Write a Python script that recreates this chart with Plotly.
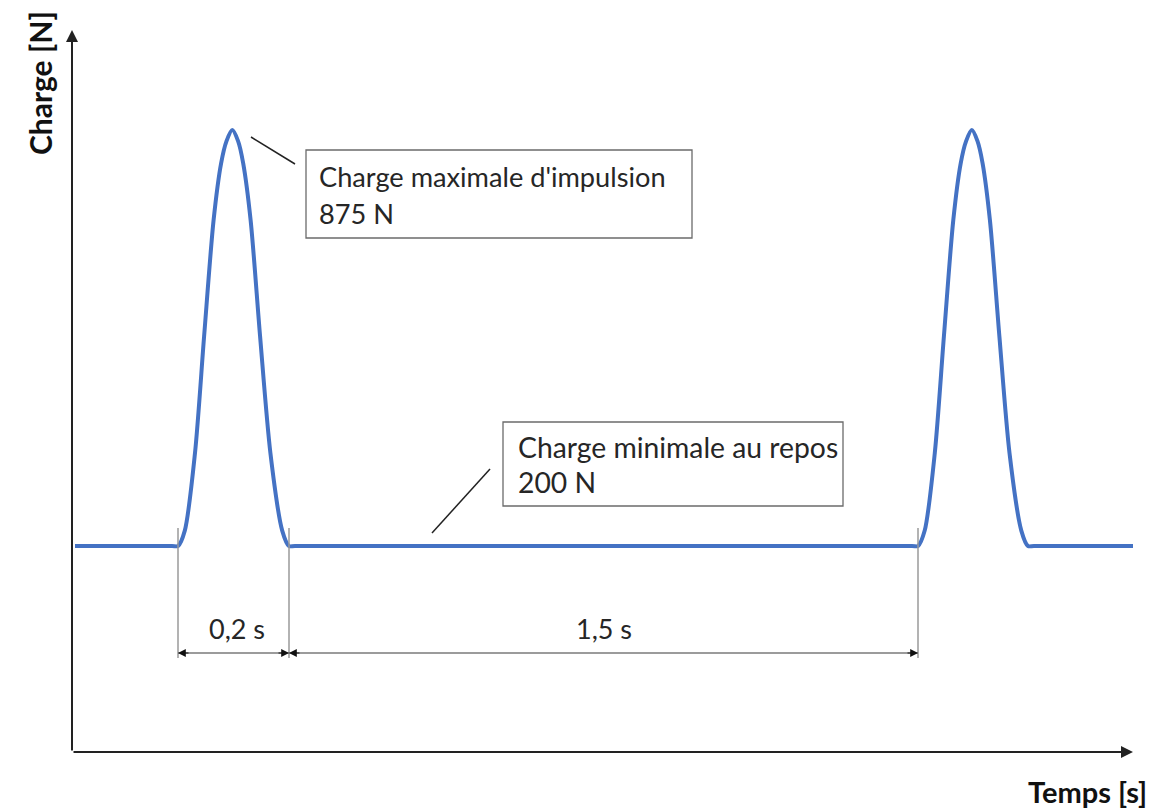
import plotly.graph_objects as go

# ---------------- data (schematic time axis in drawing units, load in N) ----------------
time_pts = [3, 100, 106, 112.8, 123.0, 132.1, 141.6, 149.1, 154.5, 160.3, 166.1, 171.2, 178.6, 188.1, 198.4, 210.2, 217, 223,
            840, 846, 852.7, 862.8, 871.9, 881.3, 888.7, 894.1, 899.8, 905.5, 910.6, 917.9, 927.4, 937.5, 949.3, 956, 962, 1063]
load_pts = [200, 200, 200, 225, 351, 540, 729, 821, 857, 875, 857, 821, 729, 540, 351, 225, 200, 200,
            200, 200, 225, 351, 540, 729, 821, 857, 875, 857, 821, 729, 540, 351, 225, 200, 200, 200]

dim_edges = [106, 217, 846]          # pulse start, pulse end, next pulse start
dim_labels = ["0,2 s", "1,5 s"]
peak_label = ["Charge maximale d'impulsion", "875 N"]
rest_label = ["Charge minimale au repos", "200 N"]
x_title = "Temps [s]"
y_title = "Charge [N]"

FONT = "Lato"
FS = 27
TXT = "#262626"

# page offset (browser body margin)
OFF = 8
# plot area in reference pixels
PL, PT, PR, PB = 72, 30, 1133, 752
W, H = 1154, 809
XMAX = PR - PL
PXN = 0.6163
def X(px):
    return px - PL
def Y(py):
    return 200 + (546 - py) / PXN
YMIN, YMAX = Y(PB), Y(PT)

fig = go.Figure()
fig.add_trace(go.Scatter(x=time_pts, y=load_pts, mode="lines",
                         line=dict(color="#4472C4", width=4, shape="spline", smoothing=0.8),
                         cliponaxis=False, hoverinfo="skip", showlegend=False))

shapes = []
annotations = []

# axes with arrowheads
annotations.append(dict(x=0, y=YMAX, ax=0, ay=YMIN, xref="x", yref="y", axref="x", ayref="y",
                        text="", showarrow=True, arrowhead=2, arrowsize=1.2, arrowwidth=2, arrowcolor="#222"))
annotations.append(dict(x=XMAX, y=YMIN, ax=0, ay=YMIN, xref="x", yref="y", axref="x", ayref="y",
                        text="", showarrow=True, arrowhead=2, arrowsize=1.2, arrowwidth=2, arrowcolor="#222"))

# axis titles
annotations.append(dict(x=(1149 - PL) / XMAX, y=(PB - 791) / (PB - PT), xref="paper", yref="paper",
                        xanchor="right", yanchor="middle",
                        text="<b>%s</b>" % x_title, showarrow=False,
                        font=dict(family=FONT, size=29, color="#111")))
annotations.append(dict(x=(40 - PL) / XMAX, y=(PB - 83) / (PB - PT), xref="paper", yref="paper",
                        xanchor="center", yanchor="middle",
                        text="<b>%s</b>" % y_title, showarrow=False, textangle=-90,
                        font=dict(family=FONT, size=30, color="#111")))

# dimension extension lines
for xe in dim_edges:
    shapes.append(dict(type="line", xref="x", yref="y", x0=xe, x1=xe, y0=Y(528), y1=Y(658),
                       line=dict(color="#9a9a9a", width=1.5)))
# dimension lines with arrowheads
ydim = Y(653)
for i in range(2):
    a, b = dim_edges[i], dim_edges[i + 1]
    shapes.append(dict(type="line", xref="x", yref="y", x0=a, x1=b, y0=ydim, y1=ydim,
                       line=dict(color="#7a7a7a", width=1.3)))
    annotations.append(dict(x=a, y=ydim, ax=12, ay=0, xref="x", yref="y", text="", showarrow=True,
                            arrowhead=2, arrowsize=1.3, arrowwidth=1.2, arrowcolor="#111"))
    annotations.append(dict(x=b, y=ydim, ax=-12, ay=0, xref="x", yref="y", text="", showarrow=True,
                            arrowhead=2, arrowsize=1.3, arrowwidth=1.2, arrowcolor="#111"))
    annotations.append(dict(x=(a + b) / 2 + (3 if i == 0 else 0), y=Y(628), xref="x", yref="y",
                            text=dim_labels[i], showarrow=False,
                            font=dict(family=FONT, size=FS, color=TXT)))

# callout boxes
def callout(box, lines_y, text_x, lines, leader, fs):
    x0, x1, y0, y1 = box
    shapes.append(dict(type="rect", xref="x", yref="y", x0=X(x0), x1=X(x1), y0=Y(y1), y1=Y(y0),
                       line=dict(color="#6b6b6b", width=1.3), fillcolor="white"))
    for ty, t in zip(lines_y, lines):
        annotations.append(dict(x=X(text_x), y=Y(ty), xref="x", yref="y", text=t, showarrow=False,
                                xanchor="left", font=dict(family=FONT, size=fs, color=TXT)))
    (lx0, ly0), (lx1, ly1) = leader
    shapes.append(dict(type="line", xref="x", yref="y", x0=X(lx0), y0=Y(ly0), x1=X(lx1), y1=Y(ly1),
                       line=dict(color="#222", width=1.5)))

callout((306, 692, 150, 238), (176, 213), 317, peak_label, ((251, 137), (295, 164)), 27.2)
callout((503, 843, 422, 506), (447, 482), 516, rest_label, ((432, 533), (490, 469)), 28.3)

fig.update_layout(
    width=W, height=H,
    margin=dict(l=PL - OFF, r=W - PR + OFF, t=PT - OFF, b=H - PB + OFF),
    paper_bgcolor="white", plot_bgcolor="white",
    xaxis=dict(range=[0, XMAX], visible=False, fixedrange=True),
    yaxis=dict(range=[YMIN, YMAX], visible=False, fixedrange=True),
    shapes=shapes, annotations=annotations, showlegend=False,
)

fig.write_html("out.html")
